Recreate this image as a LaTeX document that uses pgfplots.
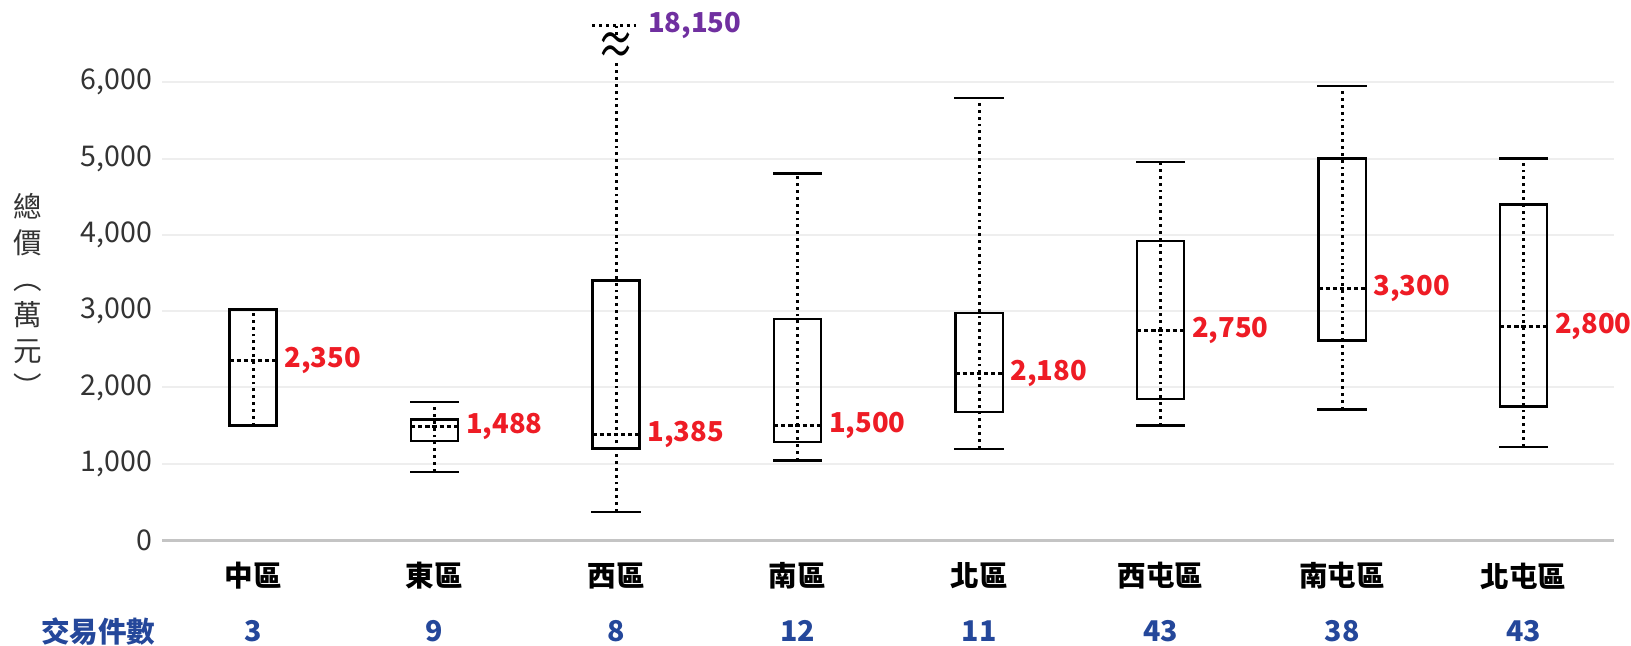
\documentclass[border=0pt]{standalone}
\usepackage{fontspec}
\setmainfont{Noto Sans CJK TC}
\usepackage{pgfplots}
\pgfplotsset{compat=1.18}

\definecolor{medred}{HTML}{EE1C25}
\definecolor{maxpurple}{HTML}{7030A0}
\definecolor{countblue}{HTML}{24479A}
\definecolor{tickgray}{HTML}{333333}
\definecolor{gridgray}{HTML}{EEEEEE}
\definecolor{axisgray}{HTML}{C4C4C4}

\tikzset{
  whisk/.style={black, line width=1.05pt, dash pattern=on 1pt off 1.4pt},
  boxline/.style={black, line width=0.8pt, line cap=rect},
  medline/.style={black, line width=0.95pt, dash pattern=on 1.5pt off 1pt},
  medlab/.style={anchor=west, inner sep=0pt, xshift=2.6pt,
    font=\bfseries\fontsize{9.6}{11}\selectfont, text=medred},
  cnt/.style={font=\bfseries, text=countblue},
}

% one box: position, lower whisker, Q1, median, Q3, upper whisker
\newcommand{\bx}[6]{%
  \pgfmathsetmacro\xl{#1-0.13}\pgfmathsetmacro\xr{#1+0.13}%
  \addplot[whisk] coordinates {(#1,#2) (#1,#6)};
  \addplot[boxline] coordinates {(\xl,#3) (\xr,#3) (\xr,#5) (\xl,#5) (\xl,#3)};
  \addplot[medline] coordinates {(\xl,#4) (\xr,#4)};
  \addplot[boxline] coordinates {(\xl,#2) (\xr,#2)};
  \addplot[boxline] coordinates {(\xl,#6) (\xr,#6)};
}

\begin{document}
\begin{tikzpicture}
\begin{axis}[
  width=508.2pt, height=184.3pt, scale only axis,
  xmin=-0.5, xmax=7.5, ymin=0, ymax=6900,
  axis lines*=left,
  y axis line style={draw=none},
  x axis line style={draw=axisgray, line width=1pt},
  major tick length=0pt,
  ytick={0,1000,...,6000},
  ymajorgrids,
  grid style={draw=gridgray, line width=0.7pt},
  scaled y ticks=false,
  yticklabel style={text=tickgray, /pgf/number format/1000 sep={,}},
  /pgf/number format/assume math mode=true,
  xtick={0,...,7},
  xticklabels={中區,東區,西區,南區,北區,西屯區,南屯區,北屯區},
  xticklabel style={font=\bfseries, anchor=center, yshift=-12.6pt},
  clip=false,
]
\bx{0}{1500}{1500}{2350}{3020}{3020}   % 中區
\bx{1}{895}{1300}{1488}{1580}{1805}    % 東區
% 西區: maximum 18,150, whisker broken above the axis
\addplot[whisk] coordinates {(2,369) (2,6250)};
\addplot[boxline] coordinates {(1.87,1200) (2.13,1200) (2.13,3400) (1.87,3400) (1.87,1200)};
\addplot[medline] coordinates {(1.87,1385) (2.13,1385)};
\addplot[boxline] coordinates {(1.87,369) (2.13,369)};
\addplot[whisk] coordinates {(2,6620) (2,6740)};
\addplot[whisk] coordinates {(1.87,6740) (2.13,6740)};
\bx{3}{1044}{1288}{1500}{2895}{4803}   % 南區
\bx{4}{1197}{1681}{2180}{2974}{5795}   % 北區
\bx{5}{1500}{1852}{2750}{3921}{4956}   % 西屯區
\bx{6}{1712}{2616}{3300}{5000}{5952}   % 南屯區
\bx{7}{1224}{1750}{2800}{4397}{5000}   % 北屯區

\node[font=\fontsize{13}{13}\selectfont, inner sep=0pt, yscale=1.5]
  at (axis cs:2,6430) {≈};
\node[anchor=west, inner sep=0pt, xshift=2.8pt,
  font=\bfseries\fontsize{9.6}{11}\selectfont, text=maxpurple]
  at (axis cs:2.13,6740) {18,150};

% medians
\node[medlab] at (axis cs:0.13,2350) {2,350};
\node[medlab] at (axis cs:1.13,1488) {1,488};
\node[medlab] at (axis cs:2.13,1385) {1,385};
\node[medlab] at (axis cs:3.13,1500) {1,500};
\node[medlab] at (axis cs:4.13,2180) {2,180};
\node[medlab] at (axis cs:5.13,2750) {2,750};
\node[medlab] at (axis cs:6.13,3300) {3,300};
\node[medlab] at (axis cs:7.13,2800) {2,800};

% y label, vertical
\node[align=center, font=\fontsize{10}{12.6}\selectfont, text=tickgray]
  at (axis cs:-1.24,3204) {總\\價\\︵\\萬\\元\\︶};

% number of transactions
\node[cnt, anchor=east, inner sep=0pt] at (axis cs:-0.534,-1193) {交易件數};
\node[cnt] at (axis cs:0,-1193) {3};
\node[cnt] at (axis cs:1,-1193) {9};
\node[cnt] at (axis cs:2,-1193) {8};
\node[cnt] at (axis cs:3,-1193) {12};
\node[cnt] at (axis cs:4,-1193) {11};
\node[cnt] at (axis cs:5,-1193) {43};
\node[cnt] at (axis cs:6,-1193) {38};
\node[cnt] at (axis cs:7,-1193) {43};

\coordinate (bl) at (axis cs:-1.394,-1376);
\coordinate (tr) at (axis cs:7.592,7077);
\end{axis}
\pgfresetboundingbox
\path[use as bounding box] (bl) rectangle (tr);
\end{tikzpicture}
\end{document}
